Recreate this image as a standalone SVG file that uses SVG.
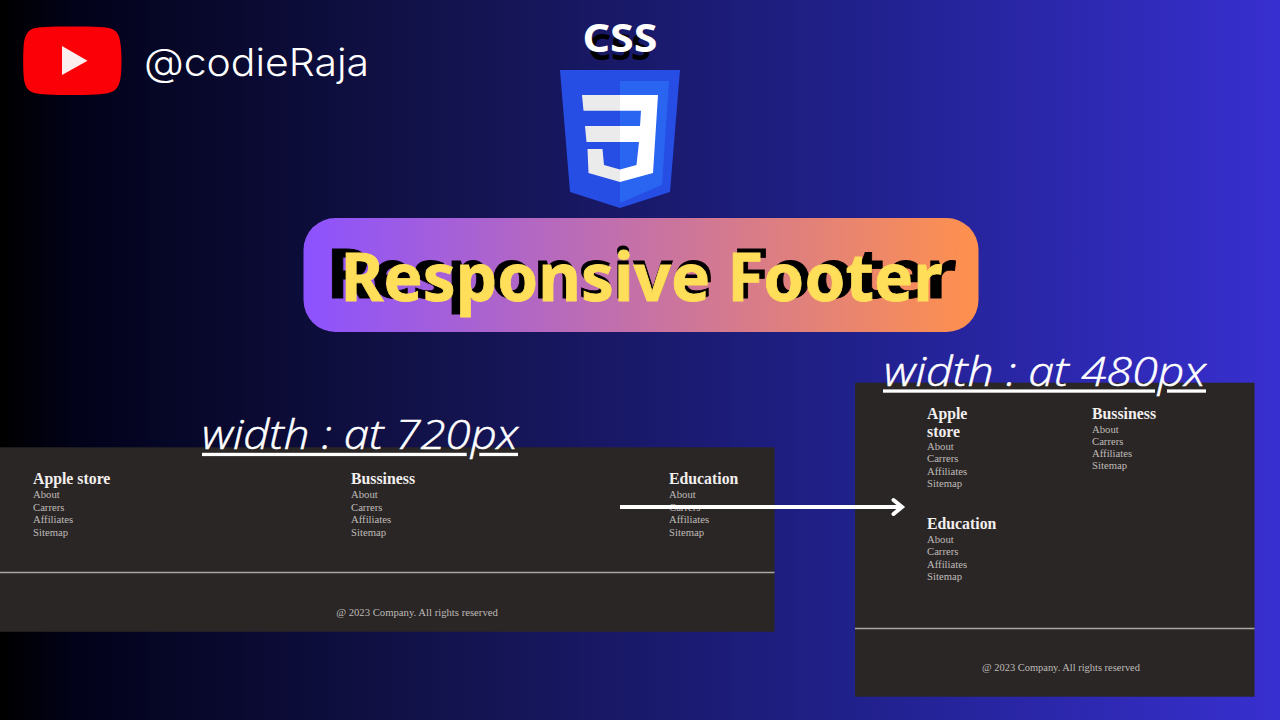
<svg xmlns="http://www.w3.org/2000/svg" width="1280" height="720" viewBox="0 0 1280 720">
<style>
.h{font-family:"Liberation Serif",serif;font-weight:700;font-size:15.8px;fill:#f2f0ee}
.l{font-family:"Liberation Serif",serif;font-size:10.7px;fill:#bebbb8}
.c{font-family:"Liberation Serif",serif;font-size:10.7px;fill:#bdbab7}
.w{font-family:"Open Sans",sans-serif;font-style:italic;font-weight:300;font-size:41px;fill:#fff;stroke:#fff;stroke-width:0.5}
.t{font-family:"Noto Sans",sans-serif;font-weight:700}
.panel{fill:#2b2626}
.rule{stroke:#a9a6a4;stroke-width:1.5}
.ul{fill:#fff}
</style>
<defs>
<linearGradient id="bg" x1="0" x2="1" y1="0" y2="0">
<stop offset="0" stop-color="#000"/><stop offset="0.06" stop-color="#02021a"/><stop offset="0.33" stop-color="#12124a"/><stop offset="0.66" stop-color="#20208a"/><stop offset="1" stop-color="#382fd0"/>
</linearGradient>
<linearGradient id="pill" x1="0" x2="1" y1="0" y2="0">
<stop offset="0" stop-color="#8c52ff"/><stop offset="1" stop-color="#ff914d"/>
</linearGradient>
</defs>
<rect width="1280" height="720" fill="url(#bg)"/>

<g id="youtube-logo">
<path d="M72 26.500C95 26.500 108 27 112 29C119 32 120 38 121 48C121.700 56 121.700 66 121 74C120 84 118 90 110 92.500C104 94.500 90 95 72 95C54 95 38 94.500 33 92.500C26 90 24 84 23.500 74C23 66 23 56 23.500 48C24 38 26 32 32 29C36 27 50 26.500 72 26.500Z" fill="#fb0007"/>
<path d="M62 46L87.500 60.700L62 75Z" fill="#fbeeee"/>
</g>
<g id="channel-name">
<text x="144" y="76" font-family="Inter,sans-serif" font-size="38" fill="#fff" textLength="225" lengthAdjust="spacingAndGlyphs" font-weight="300">@codieRaja</text>
</g>

<g id="css-logo">
<text x="619.500" y="60" text-anchor="middle" font-family="Noto Sans,sans-serif" font-weight="700" font-size="36" fill="#000" textLength="63" lengthAdjust="spacingAndGlyphs">CSS</text>
<text x="620" y="51.700" text-anchor="middle" font-family="Noto Sans,sans-serif" font-weight="700" font-size="40" fill="#fff" textLength="75" lengthAdjust="spacingAndGlyphs">CSS</text>
<path d="M560 70H680L670 192L620 208L570 192Z" fill="#264de4"/>
<path d="M620 81H669L662 185L620 203Z" fill="#2965f1"/>
<path d="M582 95H620V110.700H583.500ZM585 126H620V142H586.500ZM587.500 149H602.500L604 165L620 169.500V182L588.500 173Z" fill="#ebebeb"/>
<path d="M620 95H658L653 173L620 182V169.500L636.500 165L639 142H620V126H640L641 110.700H620Z" fill="#fff"/>
</g>

<g id="title">
<rect x="303.500" y="218" width="675" height="114" rx="32" fill="url(#pill)"/>
<text class="t" x="326.500" y="298.300" font-size="69" fill="#000" stroke="#000" stroke-width="0.8" textLength="630" lengthAdjust="spacingAndGlyphs">Responsive Footer</text>
<text class="t" x="340.500" y="300.700" font-size="67" fill="#ffde59" stroke="#ffde59" stroke-width="0.8" textLength="602" lengthAdjust="spacingAndGlyphs">Responsive Footer</text>
</g>

<g id="footer-720">
<rect class="panel" x="0" y="447.300" width="774.500" height="184.500"/>
<line class="rule" x1="0" y1="572.500" x2="774.500" y2="572.500"/>
<g id="col-apple-720">
<text class="h" x="33" y="484">Apple store</text>
<text class="l" x="33" y="498">About</text><text class="l" x="33" y="510.500">Carrers</text><text class="l" x="33" y="523">Affiliates</text><text class="l" x="33" y="535.500">Sitemap</text>
</g>
<g id="col-business-720">
<text class="h" x="351" y="484">Bussiness</text>
<text class="l" x="351" y="498">About</text><text class="l" x="351" y="510.500">Carrers</text><text class="l" x="351" y="523">Affiliates</text><text class="l" x="351" y="535.500">Sitemap</text>
</g>
<g id="col-education-720">
<text class="h" x="669" y="484">Education</text>
<text class="l" x="669" y="498">About</text><text class="l" x="669" y="510.500">Carrers</text><text class="l" x="669" y="523">Affiliates</text><text class="l" x="669" y="535.500">Sitemap</text>
</g>
<text class="c" x="417" y="615.500" text-anchor="middle">@ 2023 Company. All rights reserved</text>
</g>

<g id="footer-480">
<rect class="panel" x="855" y="382.700" width="399.500" height="314"/>
<line class="rule" x1="855" y1="628.500" x2="1254.500" y2="628.500"/>
<g id="col-apple-480">
<text class="h" x="927" y="419">Apple</text><text class="h" x="927" y="437">store</text>
<text class="l" x="927" y="450">About</text><text class="l" x="927" y="462.300">Carrers</text><text class="l" x="927" y="474.500">Affiliates</text><text class="l" x="927" y="486.800">Sitemap</text>
</g>
<g id="col-business-480">
<text class="h" x="1092" y="419">Bussiness</text>
<text class="l" x="1092" y="432.500">About</text><text class="l" x="1092" y="444.800">Carrers</text><text class="l" x="1092" y="457">Affiliates</text><text class="l" x="1092" y="469.300">Sitemap</text>
</g>
<g id="col-education-480">
<text class="h" x="927" y="529">Education</text>
<text class="l" x="927" y="543">About</text><text class="l" x="927" y="555.300">Carrers</text><text class="l" x="927" y="567.500">Affiliates</text><text class="l" x="927" y="579.800">Sitemap</text>
</g>
<text class="c" x="1061" y="671" text-anchor="middle" style="font-size:10.450px">@ 2023 Company. All rights reserved</text>
</g>

<g id="label-720">
<rect class="ul" x="202" y="452.800" width="264.700" height="3.300"/>
<rect class="ul" x="479.300" y="452.800" width="38.700" height="3.300"/>
<text class="w" x="202" y="449" textLength="316" lengthAdjust="spacingAndGlyphs">width : at 720px</text>
</g>
<g id="label-480">
<rect class="ul" x="883" y="389.400" width="272" height="3.300"/>
<rect class="ul" x="1167" y="389.400" width="39" height="3.300"/>
<text class="w" x="884" y="386" textLength="322" lengthAdjust="spacingAndGlyphs">width : at 480px</text>
</g>

<g id="connectors">
<path d="M620 507H902" fill="none" stroke="#fff" stroke-width="4"/>
<path d="M893.500 500L902 507L893.500 514" fill="none" stroke="#fff" stroke-width="4" stroke-linecap="round"/>
</g>
</svg>
